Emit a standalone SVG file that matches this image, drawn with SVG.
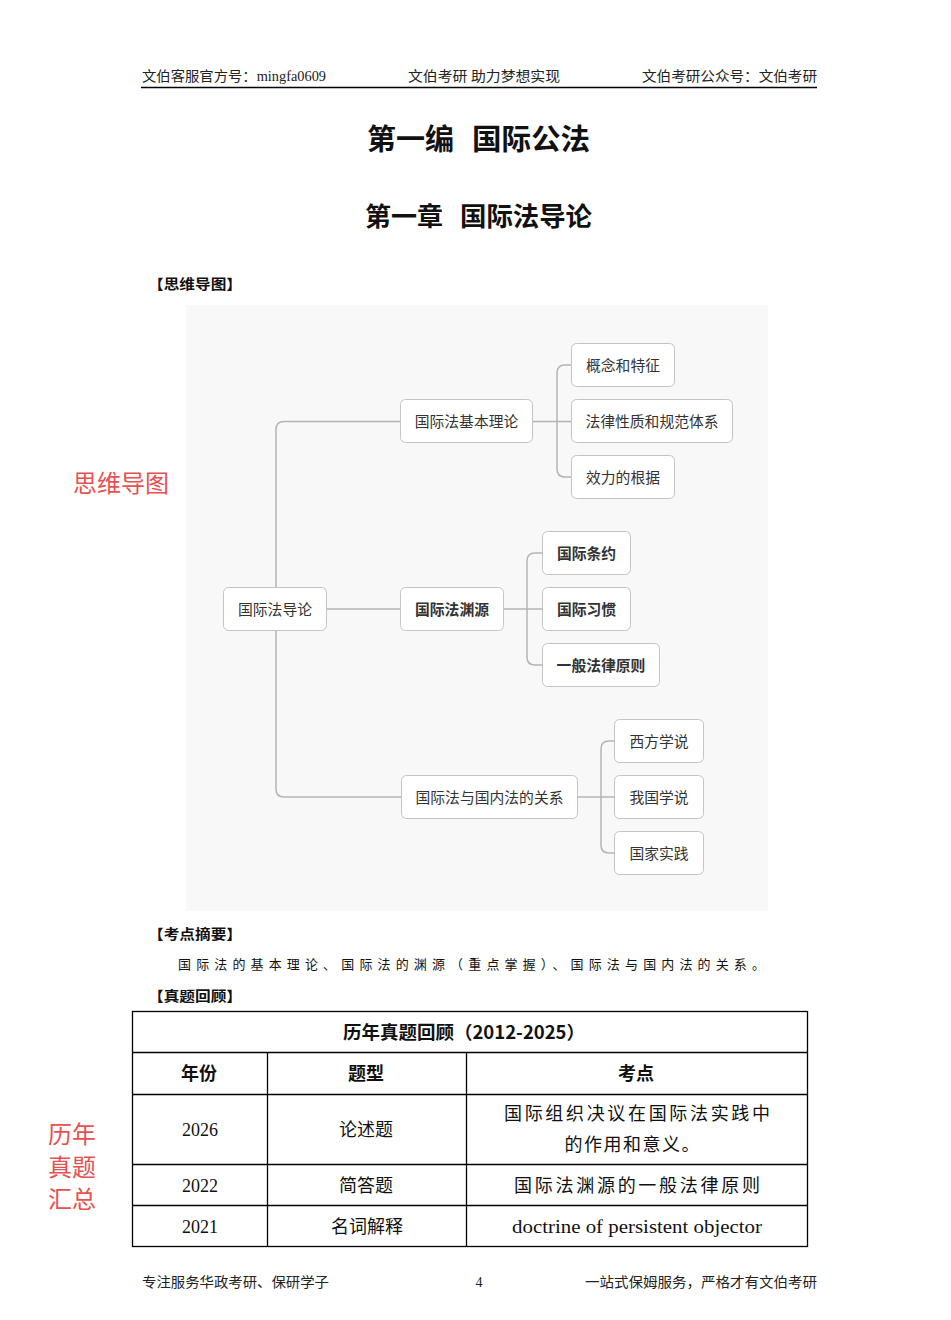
<svg xmlns="http://www.w3.org/2000/svg" width="951" height="1320" viewBox="0 0 951 1320">
<style>
.hdr{font-family:"Liberation Serif","Noto Sans CJK SC",serif;font-size:14px;fill:#222}
.title{font-family:"Noto Sans CJK SC",sans-serif;font-weight:bold;fill:#111}
.sec{font-family:"Liberation Serif","Noto Sans CJK SC",serif;font-size:14px;font-weight:bold;fill:#111}
.body{font-family:"Liberation Serif","Noto Sans CJK SC",serif;font-size:13px;fill:#111}
.red{font-family:"Noto Sans CJK SC",sans-serif;font-size:24px;fill:#e8504f}
.node rect{fill:#fff;stroke:#c4c4c4;stroke-width:1}
.node text{font-family:"Noto Sans CJK SC",sans-serif;font-size:14.8px;fill:#333;text-anchor:middle}
.node.b text{font-weight:bold}
.conn path{fill:none;stroke:#b4b4b4;stroke-width:1.5}
.tb{fill:none;stroke:#000;stroke-width:1.3}
.tc{font-family:"Liberation Serif","Noto Sans CJK SC",serif;font-size:18px;fill:#111;text-anchor:middle}
.th{font-family:"Noto Sans CJK SC",sans-serif;font-size:18px;font-weight:bold;fill:#111;text-anchor:middle}
</style>
<rect width="951" height="1320" fill="#fff"/>

<!-- header -->
<g id="header">
<text class="hdr" x="142" y="81" textLength="184" lengthAdjust="spacingAndGlyphs">文伯客服官方号：mingfa0609</text>
<text class="hdr" x="408" y="81" textLength="152" lengthAdjust="spacingAndGlyphs">文伯考研 助力梦想实现</text>
<text class="hdr" x="642" y="81" textLength="175" lengthAdjust="spacingAndGlyphs">文伯考研公众号：文伯考研</text>
<line x1="141" y1="87.5" x2="817" y2="87.5" stroke="#000" stroke-width="1.3"/>
</g>

<!-- titles -->
<text class="title" x="367" y="150" font-size="29" textLength="87" lengthAdjust="spacingAndGlyphs">第一编</text>
<text class="title" x="472" y="150" font-size="29" textLength="118" lengthAdjust="spacingAndGlyphs">国际公法</text>
<text class="title" x="365" y="226" font-size="26" textLength="78" lengthAdjust="spacingAndGlyphs">第一章</text>
<text class="title" x="460" y="226" font-size="26" textLength="132" lengthAdjust="spacingAndGlyphs">国际法导论</text>

<text class="sec" x="148" y="289" textLength="94" lengthAdjust="spacingAndGlyphs">【思维导图】</text>
<text class="red" x="73" y="492" textLength="96" lengthAdjust="spacingAndGlyphs">思维导图</text>

<!-- mind map background -->
<rect x="186" y="305" width="582" height="606" fill="#f8f8f8"/>

<g class="conn" id="connectors">
<path d="M400,421.5 H284 Q276,421.5 276,429.5 V789 Q276,797 284,797 H401"/>
<path d="M327,609 H400"/>
<path d="M533,421.5 H571"/>
<path d="M571,365 H565 Q557,365 557,373 V469 Q557,477 565,477 H571"/>
<path d="M504,609 H542"/>
<path d="M542,553 H535 Q527,553 527,561 V657 Q527,665 535,665 H542"/>
<path d="M578,797 H614"/>
<path d="M614,741 H609 Q601,741 601,749 V845 Q601,853 609,853 H614"/>
</g>

<g class="node" id="n-root"><rect x="223.5" y="587.5" width="103" height="43" rx="5"/><text x="275" y="614.5">国际法导论</text></g>
<g class="node" id="n-theory"><rect x="400.5" y="399.5" width="132" height="43" rx="5"/><text x="466.5" y="426.5">国际法基本理论</text></g>
<g class="node" id="n-concept"><rect x="571.5" y="343.5" width="103" height="43" rx="5"/><text x="623" y="370.5">概念和特征</text></g>
<g class="node" id="n-nature"><rect x="571.5" y="399.5" width="161" height="43" rx="5"/><text x="652" y="426.5">法律性质和规范体系</text></g>
<g class="node" id="n-basis"><rect x="571.5" y="455.5" width="103" height="43" rx="5"/><text x="623" y="482.5">效力的根据</text></g>
<g class="node b" id="n-source"><rect x="400.5" y="587.5" width="103" height="43" rx="5"/><text x="452" y="614.5">国际法渊源</text></g>
<g class="node b" id="n-treaty"><rect x="542.5" y="531.5" width="88" height="43" rx="5"/><text x="586.5" y="558.5">国际条约</text></g>
<g class="node b" id="n-custom"><rect x="542.5" y="587.5" width="88" height="43" rx="5"/><text x="586.5" y="614.5">国际习惯</text></g>
<g class="node b" id="n-principle"><rect x="542.5" y="643.5" width="117" height="43" rx="5"/><text x="601" y="670.5">一般法律原则</text></g>
<g class="node" id="n-relation"><rect x="401.5" y="775.5" width="176" height="43" rx="5"/><text x="489.5" y="802.5">国际法与国内法的关系</text></g>
<g class="node" id="n-west"><rect x="614.5" y="719.5" width="89" height="43" rx="5"/><text x="659" y="746.5">西方学说</text></g>
<g class="node" id="n-china"><rect x="614.5" y="775.5" width="89" height="43" rx="5"/><text x="659" y="802.5">我国学说</text></g>
<g class="node" id="n-practice"><rect x="614.5" y="831.5" width="89" height="43" rx="5"/><text x="659" y="858.5">国家实践</text></g>

<!-- summary -->
<text class="sec" x="148" y="939" textLength="94" lengthAdjust="spacingAndGlyphs">【考点摘要】</text>
<text class="body" x="178" y="969" textLength="587" lengthAdjust="spacing">国际法的基本理论、国际法的渊源（重点掌握）、国际法与国内法的关系。</text>
<text class="sec" x="148" y="1001" textLength="94" lengthAdjust="spacingAndGlyphs">【真题回顾】</text>

<!-- table -->
<g id="table">
<rect class="tb" x="132.5" y="1011.5" width="675" height="235"/>
<line class="tb" x1="132.5" y1="1052.5" x2="807.5" y2="1052.5"/>
<line class="tb" x1="132.5" y1="1094.5" x2="807.5" y2="1094.5"/>
<line class="tb" x1="132.5" y1="1164.5" x2="807.5" y2="1164.5"/>
<line class="tb" x1="132.5" y1="1205.5" x2="807.5" y2="1205.5"/>
<line class="tb" x1="267.5" y1="1052.5" x2="267.5" y2="1246.5"/>
<line class="tb" x1="466.5" y1="1052.5" x2="466.5" y2="1246.5"/>
<text class="th" x="464" y="1039" textLength="242" lengthAdjust="spacingAndGlyphs">历年真题回顾（2012-2025）</text>
<text class="th" x="199" y="1080">年份</text>
<text class="th" x="366" y="1080">题型</text>
<text class="th" x="636" y="1080">考点</text>
<text class="tc" x="200" y="1136">2026</text>
<text class="tc" x="366" y="1136">论述题</text>
<text class="tc" x="637" y="1120" textLength="266" lengthAdjust="spacing">国际组织决议在国际法实践中</text>
<text class="tc" x="632" y="1151" textLength="135" lengthAdjust="spacing">的作用和意义。</text>
<text class="tc" x="200" y="1192">2022</text>
<text class="tc" x="366" y="1192">简答题</text>
<text class="tc" x="637" y="1192" textLength="246" lengthAdjust="spacing">国际法渊源的一般法律原则</text>
<text class="tc" x="200" y="1233">2021</text>
<text class="tc" x="367" y="1233">名词解释</text>
<text class="tc" x="637" y="1233" textLength="250" lengthAdjust="spacingAndGlyphs">doctrine of persistent objector</text>
</g>

<text class="red" x="48" y="1143">历年</text>
<text class="red" x="48" y="1176">真题</text>
<text class="red" x="48" y="1208">汇总</text>

<!-- footer -->
<g id="footer">
<text class="hdr" x="142" y="1287" textLength="187" lengthAdjust="spacingAndGlyphs">专注服务华政考研、保研学子</text>
<text class="hdr" x="479" y="1287" text-anchor="middle">4</text>
<text class="hdr" x="585" y="1287" textLength="232" lengthAdjust="spacingAndGlyphs">一站式保姆服务，严格才有文伯考研</text>
</g>
</svg>
